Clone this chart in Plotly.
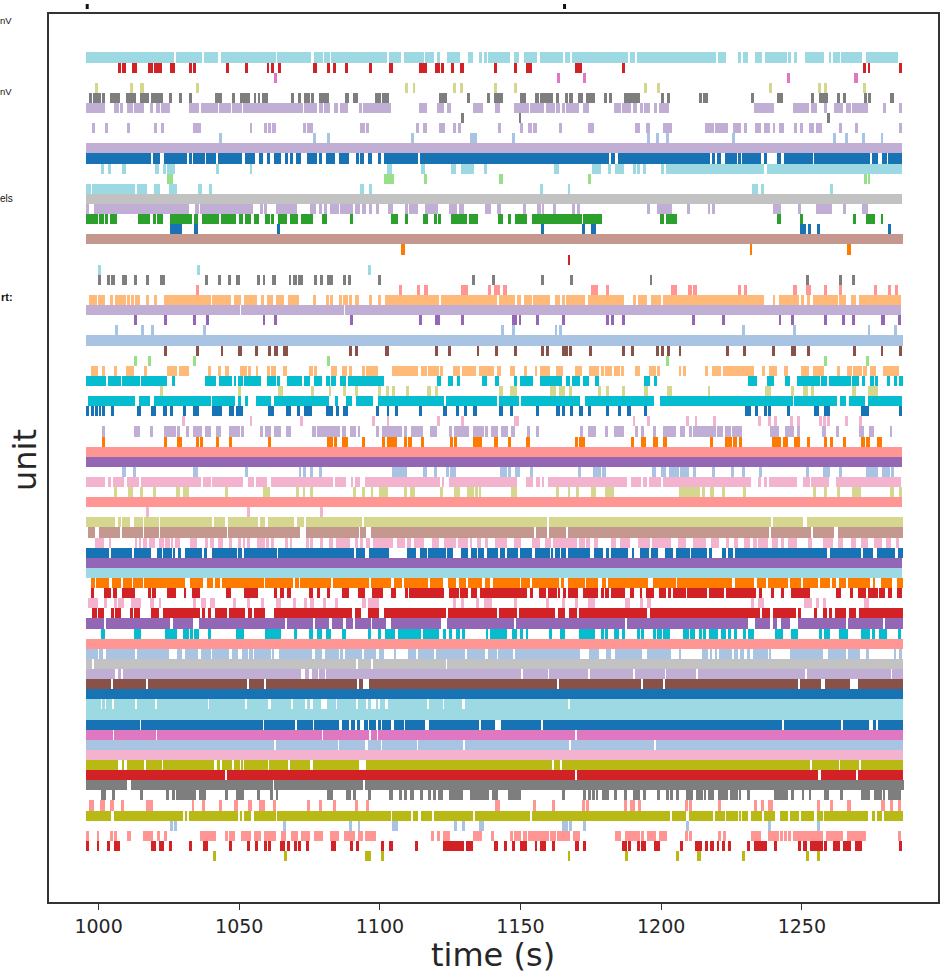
import plotly.graph_objects as go

# Each unit: flat list of start,end times (s) of its occupied runs in the raster, top row first
unit_00 = [995.7,1026.9, 1027.4,1036.6, 1037.3,1042.4, 1043.4,1062.9, 1063.3,1075.6, 1076.7,1079.7, 1080.2,1082.3, 1082.8,1102.7, 1103.3,1107.4, 1108.4,1115.7, 1116.1,1119.3, 1120.3,1121.3, 1123.7,1128.5, 1131.4,1133, 1135.3,1136.4, 1137,1137.9, 1138.5,1146.2, 1147.7,1149.3, 1151.3,1156, 1156.8,1165.1, 1165.7,1167.7, 1168.2,1188.2, 1188.8,1190.8, 1191.4,1219.5, 1220.1,1223.1, 1227.2,1228.2, 1229.2,1230.8, 1233.4,1235.9, 1236.9,1244.6, 1245.2,1246.3, 1247.2,1248.3, 1251.2,1258, 1259.5,1260.5, 1260.9,1263.6, 1264,1271.4, 1272.8,1284.1]
unit_01 = [1007,1007.8, 1008.5,1009.6, 1012,1013.7, 1017.7,1019.4, 1019.7,1022.4, 1025.3,1027, 1032,1033.1, 1033.7,1034.7, 1045.4,1046.4, 1052,1053.2, 1059.8,1060.7, 1061.2,1062.3, 1063.8,1065, 1076.1,1077.8, 1081.2,1082.4, 1083.3,1084.5, 1087.5,1088.5, 1096.1,1097.3, 1103.3,1104.5, 1114,1116.6, 1119.6,1121.3, 1121.6,1122.8, 1125.3,1126.3, 1128.4,1130, 1140.5,1141.6, 1147.7,1148.8, 1151.8,1153.9, 1169.3,1171.9, 1186.2,1187.2, 1271.8,1272.8, 1273.4,1274.4, 1284.6,1285.7]
unit_02 = [1062.3,1063.3, 1163.1,1164.2, 1172.3,1173.4, 1244.6,1245.7, 1268.6,1269.8]
unit_03 = [998.8,999.9, 1011.1,1012.2, 1014.8,1016.3, 1034.6,1035.7, 1109,1110, 1111.6,1112.6, 1125.9,1126.9, 1128.5,1129.5, 1140.5,1141.6, 1147.7,1148.8, 1193.9,1194.9, 1198.5,1199.5, 1238.5,1239.5, 1255.9,1256.9, 1258,1259, 1271.8,1272.9]
unit_04 = [996.7,997.6, 998.1,1000.8, 1001.3,1002.4, 1003.9,1007.6, 1009.6,1013.2, 1014.8,1017.8, 1018.8,1022.9, 1024.9,1026, 1028.5,1029.5, 1032.1,1033.2, 1041.4,1044, 1047.5,1048.5, 1050.1,1053.7, 1055.2,1056.1, 1056.6,1057.5, 1058.1,1060.3, 1068.4,1069.5, 1071,1072.1, 1073.2,1075, 1075.6,1076.7, 1078.2,1081.9, 1087.5,1089, 1090.5,1092.2, 1098.2,1100.3, 1100.8,1103.4, 1121.1,1124, 1131,1132.2, 1137.9,1139, 1140.5,1143.6, 1149.7,1151.9, 1155,1156.5, 1157,1161.6, 1162.6,1163.7, 1165.7,1166.8, 1167.3,1168.8, 1170.3,1172.3, 1173.4,1176.5, 1179.6,1180.6, 1181.6,1182.6, 1186.8,1192.5, 1200,1201.1, 1202.2,1203.2, 1213.4,1214.5, 1214.9,1216.5, 1231.8,1232.9, 1241.1,1243.2, 1253.4,1254.4, 1256.2,1259.4, 1262.6,1263.7, 1264.6,1265.7, 1272,1273, 1273.5,1274.6, 1281.5,1282.6]
unit_05 = [995.7,1002.4, 1005.4,1007.1, 1007.6,1008.6, 1010.2,1012.2, 1012.6,1016.2, 1018.3,1019.4, 1020.4,1021.7, 1022.1,1025.5, 1032.1,1035.7, 1036.3,1042.3, 1042.9,1046.9, 1047.5,1050.9, 1051.5,1072.6, 1073,1077.8, 1078.2,1079.8, 1080.2,1082.4, 1083.8,1085.2, 1085.7,1088.5, 1092.5,1093.6, 1094.1,1103.9, 1114,1116.6, 1120.2,1122.8, 1123.9,1125.4, 1133.1,1136.5, 1141,1142.6, 1147.7,1152.9, 1153.4,1158.5, 1159,1162.2, 1162.6,1164.2, 1164.7,1165.7, 1166.3,1170.8, 1172.3,1174.4, 1183.1,1185.7, 1186.2,1189.4, 1189.8,1191.4, 1192.5,1193.4, 1194,1196, 1197.5,1198.6, 1199.1,1202.8, 1232.9,1240, 1246.8,1252.4, 1253.4,1255.4, 1258,1259, 1261.6,1264.8, 1265.7,1267.3, 1267.8,1273.5, 1279,1280, 1284.6,1285.7]
unit_06 = [1129,1130, 1149.3,1150.3, 1258.9,1260]
unit_07 = [997.7,998.8, 1002.4,1003.4, 1010,1011.1, 1019.7,1020.8, 1022.3,1023.4, 1033.6,1036.3, 1053.7,1054.7, 1058.7,1059.8, 1060.3,1061.3, 1061.8,1062.9, 1072.6,1073.6, 1074.1,1076.2, 1093,1094.7, 1095.2,1096.2, 1113,1114, 1115.5,1116.6, 1121.1,1123.3, 1125.9,1126.9, 1127.9,1128.9, 1142.1,1143.1, 1149.7,1150.8, 1152.8,1153.9, 1154.5,1156, 1163.7,1164.7, 1173.9,1176, 1190.8,1192.3, 1194.5,1196, 1200.6,1203.7, 1215.4,1218.6, 1219.1,1223.7, 1225.7,1228.3, 1229.4,1230.4, 1233.4,1235.5, 1236.5,1238.6, 1239.7,1240.6, 1241.7,1243.7, 1247.2,1248.3, 1249.4,1250.3, 1252.4,1254.4, 1254.9,1257, 1263.1,1264.2, 1268.8,1269.8, 1284.6,1285.7]
unit_08 = [1042.8,1043.8, 1076.1,1077.2, 1081.2,1082.3, 1111,1112, 1132,1134.4, 1147.1,1148.2, 1194.9,1196, 1198,1199.1, 1201.7,1202.7, 1225.2,1226.3, 1261,1262.1, 1265.2,1266.3, 1271.4,1272.4, 1278,1279]
unit_09 = [995.7,1285.7]
unit_10 = [995.7,1018.7, 1019.3,1021.9, 1023.4,1031.4, 1032,1033.1, 1033.7,1037.7, 1038.3,1041.7, 1042.3,1051, 1052.1,1055.7, 1057.2,1058.3, 1059.8,1060.9, 1062.4,1064.9, 1066.4,1067.5, 1068,1069, 1070.1,1072.1, 1074.1,1077.8, 1078.2,1079.3, 1080.8,1083.9, 1085.4,1089, 1091.6,1092.7, 1093.1,1094.2, 1095.7,1097.3, 1099.3,1100.4, 1101.3,1113.7, 1114.2,1181.4, 1182,1183.6, 1184.6,1217.4, 1218,1219, 1220,1221.1, 1222.7,1226.9, 1227.4,1228.3, 1228.9,1235.5, 1236.5,1237.6, 1241.1,1242.6, 1243.8,1253.9, 1254.4,1274.4, 1275,1277, 1278.6,1280.1, 1280.6,1285.7]
unit_11 = [1000.8,1001.9, 1003.4,1004.5, 1008.4,1009.6, 1020.2,1021.5, 1023,1023.9, 1024.5,1027, 1041.8,1042.9, 1053.7,1054.7, 1102.7,1104.4, 1114.5,1116.2, 1125.3,1126.9, 1129,1133.4, 1136.9,1137.9, 1162,1163.7, 1175.4,1178.5, 1181.1,1182, 1183.7,1186.8, 1189.8,1190.9, 1191.4,1192.5, 1193.4,1194.5, 1200,1201.1, 1201.7,1236.6, 1237.5,1285.7]
unit_12 = [1024.3,1026.5, 1101.3,1102.4, 1102.7,1105, 1115.6,1116.6, 1142.5,1143.6, 1173.9,1174.9, 1272,1273, 1273.5,1274.4]
unit_13 = [995.7,997.2, 997.7,1013.1, 1013.7,1017.2, 1019.8,1021.9, 1024.9,1028, 1035.2,1036.7, 1039.2,1040.3, 1093.1,1094.2, 1096.2,1097.3, 1157,1158, 1166.7,1167.7, 1232.3,1234.4, 1235.5,1236.6, 1260,1261.1]
unit_14 = [995.7,1285.7]
unit_15 = [995.7,996.7, 998.3,1032.1, 1034.2,1035.7, 1036,1055, 1057.3,1058.4, 1058.9,1059.8, 1062.9,1070.4, 1075.2,1077.3, 1078.2,1079.3, 1080.3,1081.3, 1082.4,1085.3, 1085.8,1090.5, 1091,1093.1, 1093.6,1095.1, 1096.2,1097.3, 1098.7,1099.7, 1102.8,1104.8, 1109,1110, 1110.5,1113.7, 1116.2,1120.8, 1124.4,1127.5, 1128.1,1130, 1137.4,1139.6, 1141.5,1143.1, 1150.8,1151.9, 1156,1157.1, 1157.6,1158.5, 1161.6,1162.6, 1168.3,1169.3, 1170.2,1171.3, 1194.9,1196, 1198.5,1203.7, 1209.3,1210.3, 1216.5,1217.5, 1218,1219.1, 1239.7,1242.6, 1248.8,1249.8, 1254.9,1260.6, 1264.6,1265.7, 1271.4,1273.5]
unit_16 = [995.7,999.8, 1000.2,1001.8, 1002.4,1003.4, 1003.9,1006.5, 1014,1018.2, 1019.3,1020.3, 1020.9,1022.9, 1025.4,1033.1, 1034.1,1035.2, 1036.7,1042.8, 1043.4,1048.9, 1050,1051.5, 1052,1054.1, 1055.2,1057.2, 1059.3,1060.9, 1061.3,1062.4, 1063.8,1066.9, 1068,1071, 1072.1,1076.2, 1079.3,1081.3, 1089.5,1090.5, 1103.9,1106.5, 1109,1110, 1115.5,1117.2, 1119.1,1120.2, 1120.8,1121.8, 1125.3,1131.1, 1131.7,1135, 1142.1,1143.6, 1145.6,1146.7, 1148.2,1152.3, 1153.9,1171.7, 1172.3,1179.1, 1199.5,1201.1, 1201.7,1205.7, 1241.1,1242.6, 1249.4,1250.4, 1268.3,1269.4, 1272.9,1276, 1278,1279]
unit_17 = [1025.4,1029.5, 1034.1,1035.2, 1063.3,1064.4, 1157.4,1158.5, 1171.9,1172.9, 1174.9,1177, 1249.4,1251.4, 1252.3,1253.4, 1255.4,1256.5, 1280.6,1281.6]
unit_18 = [995.4,1286.1]
unit_19 = [1107.4,1109, 1231.4,1232.3, 1266.2,1267.3]
unit_20 = [1166.7,1167.7]
unit_21 = [999.9,1000.8, 1035.1,1036.2, 1095.6,1096.7]
unit_22 = [999.9,1000.8, 1002.9,1003.9, 1004.4,1006, 1008.5,1010, 1012.6,1013.7, 1016.8,1017.8, 1021.9,1023.5, 1037.7,1038.8, 1042.3,1043.4, 1046,1047, 1049,1050.1, 1056.3,1057.3, 1058.3,1059.3, 1061.8,1062.9, 1067.6,1068.5, 1069,1070.6, 1071,1072.7, 1076.7,1077.8, 1078.7,1079.8, 1081.3,1083.3, 1087,1088, 1088.6,1089.6, 1099.3,1100.4, 1132.6,1133.7, 1139.9,1141, 1157.4,1158.5, 1167.7,1168.8, 1195.9,1196.9, 1251.4,1252.4, 1263.1,1264.2, 1267.7,1268.8]
unit_23 = [1034.6,1035.7, 1106.9,1107.9, 1113.1,1114.2, 1115.7,1117.2, 1129,1131.5, 1138.4,1139.5, 1140.5,1142.6, 1143.6,1145.1, 1174.9,1177.5, 1180.5,1181.6, 1203.6,1205.7, 1209.7,1210.8, 1211.4,1212.9, 1227.2,1228.3, 1229.4,1230.4, 1246.9,1248.4, 1251.4,1253.4, 1258,1259, 1263.1,1264.2, 1275.5,1276.6, 1280.6,1281.6, 1283.2,1284.3]
unit_24 = [996.7,999.3, 999.9,1002.4, 1003.9,1005, 1006,1009.6, 1010,1011.1, 1011.6,1012.6, 1013.1,1014.8, 1016.8,1017.8, 1019.7,1020.8, 1023.4,1039.8, 1040.4,1047, 1048,1050.6, 1051.6,1056.2, 1057.8,1058.9, 1059.9,1061.9, 1062.9,1065.9, 1067.5,1071.1, 1076.2,1077.3, 1080.8,1081.9, 1082.4,1083.3, 1085.4,1086.5, 1087,1088.5, 1089,1090, 1091.2,1092.7, 1096.2,1097.3, 1099.3,1100.4, 1101.9,1120.9, 1121.8,1141.5, 1142.5,1148.2, 1148.7,1150.3, 1151.3,1153.9, 1154.4,1160.6, 1162.2,1164.2, 1164.7,1165.7, 1166.2,1172.9, 1173.9,1186.8, 1189.8,1190.9, 1191.9,1195, 1196.5,1200.1, 1200.6,1236.6, 1239.7,1240.6, 1241.7,1248.9, 1249.8,1250.9, 1251.8,1252.9, 1254,1262.7, 1263.1,1265.7, 1267.3,1269.4, 1270.4,1285.3]
unit_25 = [995.5,1050.1, 1050.6,1087.1, 1087.6,1285.3]
unit_26 = [1012.6,1013.7, 1023.4,1024.5, 1033.6,1034.7, 1038.2,1039.2, 1058.3,1059.3, 1062.4,1063.5, 1089.5,1090.5, 1114,1115.1, 1119.7,1121.3, 1129,1130, 1147.1,1148.7, 1149.3,1150.3, 1155.4,1156.5, 1164.7,1165.7, 1180.5,1181.6, 1182,1183.1, 1186.2,1187.2, 1210.8,1211.9, 1221.7,1222.6, 1241.7,1242.7, 1246.3,1247.3, 1258,1259, 1264.2,1265.2, 1267.7,1268.8, 1278.1,1279.6, 1284.3,1285.3]
unit_27 = [1006,1007, 1015.2,1016.3, 1018.8,1019.8, 1037.2,1038.3, 1143.1,1144.2, 1147.1,1148.2, 1162.2,1163.1, 1163.7,1164.7, 1228.8,1229.8, 1246.8,1247.8, 1273.4,1274.4, 1282.6,1283.7]
unit_28 = [995.7,1286]
unit_29 = [1023.4,1024.5, 1034.6,1035.7, 1043.4,1044.4, 1049.5,1051, 1055.7,1056.7, 1060.3,1061.3, 1062.4,1063.8, 1065.5,1067.5, 1089,1090, 1091.1,1092.1, 1101.8,1103.3, 1119.7,1120.8, 1124.3,1125.4, 1134.4,1135.4, 1141,1142.1, 1147.7,1148.8, 1157.4,1158.5, 1159,1160, 1164.7,1166.7, 1167.3,1168.3, 1174.4,1175.4, 1186.2,1187.2, 1189.3,1190.3, 1198,1199.1, 1200,1201.1, 1202.2,1203.2, 1206.2,1207.2, 1223.1,1224.2, 1229.2,1230.3, 1239.5,1240.6, 1246.3,1247.8, 1251.8,1252.9, 1268.3,1269.4, 1278,1279, 1284.6,1285.7]
unit_30 = [1012.6,1013.7, 1017.7,1018.8, 1033.7,1034.7, 1081.3,1082.4, 1201.7,1202.7, 1258,1259, 1272.9,1274]
unit_31 = [997.3,999.9, 1001.3,1002.4, 1005.4,1006.5, 1009.6,1012.6, 1016.2,1017.2, 1024.5,1028, 1028.6,1032.1, 1038.8,1039.8, 1042.4,1043.4, 1045,1046.5, 1050.1,1052.7, 1053.2,1054.2, 1055.8,1056.7, 1059.9,1060.9, 1061.3,1062.9, 1065.5,1067, 1074.7,1076.2, 1076.7,1077.8, 1082.8,1084.9, 1086.4,1088.4, 1089,1090, 1093.6,1094.7, 1095.2,1099.3, 1104.2,1113.6, 1114.6,1116.6, 1117.2,1120.9, 1121.2,1122.3, 1125.9,1128.5, 1129.1,1134.1, 1135.3,1140.5, 1141.6,1143.1, 1146.2,1148.2, 1151.3,1152.3, 1155,1156, 1157,1160.6, 1162.6,1165.2, 1169.3,1171.9, 1174.4,1178, 1178.5,1179.6, 1180,1182.6, 1183.1,1185.2, 1185.7,1186.8, 1190.8,1192.3, 1195.5,1198, 1198.5,1199.5, 1206.2,1207.2, 1207.7,1208.8, 1215.4,1216.5, 1218,1221.1, 1222.1,1232.9, 1236,1237, 1238.5,1241.1, 1243.7,1245.2, 1249.8,1252.4, 1254,1258, 1262.6,1263.7, 1266.2,1267.8, 1268.3,1271.4, 1271.8,1273, 1274.4,1276.4, 1279,1284.7]
unit_32 = [995.7,1002.8, 1003.4,1008, 1008.5,1014.8, 1015.2,1024.5, 1026,1027, 1037.7,1041.8, 1042.9,1047.5, 1048,1049, 1049.5,1051.2, 1051.6,1057.8, 1059.8,1063, 1063.5,1064.4, 1067,1072.2, 1073.2,1075.3, 1076.7,1079.3, 1080.8,1082.4, 1082.8,1084.4, 1085.9,1087.9, 1088.5,1101.3, 1120.3,1121.8, 1124.3,1126, 1127.4,1128.5, 1136.4,1137.9, 1141,1142.5, 1147.7,1148.8, 1149.7,1154.4, 1157,1164.7, 1166.2,1167.7, 1168.2,1171.3, 1172.3,1174.4, 1176.5,1178, 1194,1196, 1197.5,1198.6, 1230.8,1233.9, 1237.5,1240.1, 1244.1,1245.7, 1248.3,1256.5, 1256.9,1259, 1259.5,1267.3, 1267.7,1270.2, 1271.4,1272.5, 1274.4,1275.5, 1276,1277, 1280.1,1281.2, 1282.6,1283.7, 1284.7,1285.8]
unit_33 = [1021.9,1023, 1049.5,1050.6, 1063.9,1065.5, 1075.6,1076.7, 1081.8,1082.8, 1087,1088, 1091,1092.1, 1099.3,1100.4, 1102.2,1103.3, 1104.4,1105.4, 1109.4,1110.5, 1116.6,1118.2, 1119.7,1120.8, 1142.5,1143.6, 1146.2,1148.8, 1160.6,1162.6, 1163.7,1165.7, 1167.3,1168.3, 1177.5,1178.6, 1180.5,1181.6, 1186.2,1187.2, 1193.9,1195.4, 1202,1203.7, 1216.5,1217.5, 1237,1239.1, 1246.3,1247.3, 1250.3,1252.3, 1253.4,1254.4, 1267.8,1269.4, 1273.5,1277]
unit_34 = [996.3,1013.1, 1014.2,1018.3, 1019.8,1039.8, 1040.4,1048.6, 1049.6,1050.6, 1052.1,1053.2, 1055.8,1061.3, 1062.4,1081.8, 1083.9,1085, 1088,1090, 1091.6,1097.7, 1099.4,1122.9, 1123.4,1141.6, 1142.2,1149.3, 1150.3,1171.3, 1172.9,1197.4, 1199.5,1246.8, 1247.3,1262.6, 1263.7,1265.7, 1266.7,1272.4, 1273.5,1285.7]
unit_35 = [995.7,996.7, 997.3,998.2, 998.7,999.8, 1000.2,1000.8, 1001.3,1002.4, 1004.5,1005.4, 1013.7,1015.2, 1018.8,1020.3, 1022.9,1024.5, 1025.4,1026.5, 1030,1031.1, 1033.6,1035.7, 1040.3,1043.8, 1046.4,1048, 1049,1051.2, 1060.4,1062.4, 1066.5,1068.5, 1070.6,1071.6, 1073.2,1075.8, 1080.8,1083.3, 1084.4,1085.5, 1087,1088.5, 1098.7,1099.7, 1102.4,1103.4, 1105.4,1106.5, 1114,1115.1, 1122.3,1123.9, 1126.9,1128, 1130,1131.1, 1133.1,1134.4, 1142.5,1143.6, 1146.2,1147.3, 1155.4,1156.5, 1162.6,1164.2, 1164.7,1165.7, 1167.7,1168.8, 1170.8,1172.3, 1173.9,1174.9, 1180.5,1181.6, 1184.6,1185.7, 1187.7,1189.3, 1193.9,1194.9, 1229.8,1231.8, 1233.4,1234.4, 1236.5,1237.6, 1238,1239.1, 1244.7,1245.8, 1254.4,1256, 1258,1260, 1270.9,1273.9, 1284.6,1285.7]
unit_36 = [1029.5,1030.6, 1053.7,1054.7, 1071.6,1072.7, 1097.2,1098.2, 1102.4,1103.4, 1120.2,1121.3, 1129,1130, 1147.7,1149.3, 1189.8,1190.8, 1194.9,1196, 1208.8,1209.8, 1211.9,1212.9, 1218.5,1219.5, 1234.4,1235.5, 1238,1239.1, 1240.1,1241.2, 1245.7,1246.8, 1248.3,1249.4, 1256,1257, 1257.5,1258.6, 1259,1260.1, 1265.2,1266.3, 1270.4,1271.5]
unit_37 = [1001.3,1002.4, 1012.6,1014.8, 1018.3,1019.4, 1023.4,1027.5, 1028,1029.1, 1031.1,1032.1, 1033.7,1036.7, 1037.8,1039.8, 1041.8,1043.4, 1046.4,1050.1, 1050.6,1051.6, 1057.3,1058.3, 1059.3,1061.3, 1062.4,1065, 1066.5,1068.5, 1075.8,1077.3, 1077.8,1085.9, 1086.4,1088, 1089.5,1091.6, 1092.1,1093.1, 1098.7,1099.7, 1100.8,1108, 1108.5,1109.5, 1111,1115.3, 1117.7,1120.2, 1124.5,1125.5, 1126.5,1131.6, 1133.1,1136.9, 1137.4,1138.5, 1139.5,1142.1, 1143.1,1145.7, 1146.7,1148.2, 1152.3,1153.4, 1155.4,1156.5, 1171.3,1172.3, 1173.9,1177, 1180,1181.1, 1183.1,1186.8, 1190.8,1191.9, 1192.9,1193.9, 1197,1198, 1200.6,1205.2, 1206.8,1208.3, 1209.8,1210.8, 1211.4,1219.5, 1220,1222.1, 1222.6,1224.7, 1225.2,1228.8, 1238.6,1241.7, 1244.1,1247.2, 1248.3,1249.4, 1257,1258.6, 1262.1,1263.2, 1270.4,1272, 1274,1275.5, 1281.2,1282.2]
unit_38 = [1001.3,1002.4, 1023.4,1024.5, 1028,1029.5, 1034.6,1035.7, 1036.2,1037.2, 1041.8,1042.9, 1046.4,1047.5, 1060.3,1061.3, 1081.3,1083.3, 1083.8,1084.9, 1086.4,1088.5, 1093.6,1094.7, 1100.8,1101.9, 1102.4,1106, 1108.5,1109.5, 1110,1111.5, 1114.7,1115.8, 1124.9,1126, 1126.5,1127.5, 1133,1136.4, 1140.5,1142.1, 1145.6,1146.7, 1151.8,1153.4, 1169.3,1170.3, 1170.8,1172.8, 1189.3,1190.3, 1192.9,1194.5, 1197,1199, 1200.6,1202.2, 1217.4,1218.5, 1222.7,1225.2, 1225.7,1226.8, 1227.8,1228.9, 1239.5,1242.6, 1243.2,1245.2, 1247.3,1249.4, 1251.8,1252.9, 1258,1259, 1260.1,1261.2, 1264.8,1265.8, 1270.9,1272.4, 1272.9,1274.4, 1276.6,1278.6]
unit_39 = [995.7,1285.7]
unit_40 = [995.7,1285.7]
unit_41 = [1008.5,1009.6, 1012.2,1013.2, 1033.7,1035.2, 1052.1,1053.2, 1071.1,1072.1, 1072.7,1073.6, 1075.2,1076.2, 1078.2,1079.3, 1104.4,1109.6, 1115.2,1116.6, 1119.2,1120.2, 1123.4,1124.4, 1124.9,1126.9, 1142.6,1145.1, 1145.6,1146.7, 1148.2,1149.7, 1153.4,1154.5, 1170.3,1171.4, 1175.9,1178.5, 1179,1180.5, 1196.9,1198, 1200,1201.6, 1202.6,1206.3, 1206.8,1209.8, 1211.4,1212.4, 1218,1219.1, 1224.7,1225.8, 1228.8,1229.8, 1234.9,1236, 1251.4,1252.4, 1257.5,1260.1, 1263.1,1264.2, 1272.9,1277, 1278.6,1281.2, 1281.7,1282.8]
unit_42 = [995.7,1002.4, 1003.4,1004.5, 1005,1009.1, 1010,1014.2, 1015.2,1036.3, 1037.2,1039.8, 1040.4,1051.2, 1053.2,1055.2, 1055.8,1059.8, 1061.3,1083.3, 1083.9,1088, 1089.6,1090.5, 1091.1,1093.1, 1094.7,1121.4, 1122.3,1122.9, 1124.4,1148.7, 1151.9,1154.5, 1155.4,1157, 1157.6,1158.5, 1159.6,1187.7, 1189.3,1192.9, 1193.4,1194.9, 1195.5,1200.1, 1200.6,1231.8, 1234.4,1235.5, 1236.5,1237.5, 1238.5,1248.3, 1250.3,1252.9, 1253.4,1259.8, 1262.1,1285.3]
unit_43 = [1005.4,1006.5, 1010.6,1012.2, 1014.8,1015.8, 1019.3,1020.3, 1027.5,1029.1, 1030,1031.1, 1031.4,1032.1, 1044.9,1046, 1058.3,1060.9, 1070.1,1071.1, 1072.7,1073.5, 1075.2,1076.2, 1090.5,1091.6, 1093.7,1094.8, 1096.7,1097.7, 1099.7,1102.8, 1108.5,1109.5, 1110.6,1112.6, 1121.4,1122.3, 1126.5,1128.5, 1131.1,1133.4, 1134.1,1134.8, 1135.3,1135.9, 1146.7,1148.8, 1162.6,1163.7, 1166.7,1167.7, 1169.7,1170.8, 1175.2,1177, 1180,1183.1, 1206.3,1213.9, 1214.5,1215.5, 1217.5,1218.6, 1221.7,1222.7, 1229.2,1230.3, 1254,1255, 1258,1259, 1262.6,1263.7, 1267.8,1270.9, 1281.5,1282.6, 1284.6,1285.7]
unit_44 = [995.7,1285.7]
unit_45 = [1016.8,1017.8, 1052.7,1053.8, 1078.7,1079.8]
unit_46 = [995.7,1006, 1007.1,1007.8, 1008.5,1011.1, 1012.6,1015.8, 1016.2,1021.4, 1021.9,1040.3, 1040.9,1044.9, 1046,1056.6, 1057.3,1059.1, 1060.3,1069.6, 1070.6,1073, 1073.6,1093.6, 1094.2,1159.4, 1160.2,1239.1, 1239.7,1250.3, 1251.8,1285.8]
unit_47 = [996.2,998.7, 1000,1007.6, 1008.3,1015.7, 1016.2,1021.4, 1021.9,1045.5, 1046.1,1071.5, 1073.6,1092.5, 1093.1,1095.1, 1096.7,1154.8, 1155.4,1159.4, 1160.2,1166.3, 1166.9,1238.5, 1239.1,1253.4, 1254,1261.6, 1262.7,1285.8]
unit_48 = [998.8,1001.9, 1003.8,1004.5, 1012.9,1013.7, 1014.4,1015.1, 1015.8,1017.2, 1017.8,1020, 1021.4,1023.3, 1023.7,1025.3, 1025.6,1026.5, 1027.1,1029.1, 1032.4,1035.1, 1037.7,1038.9, 1039.7,1041.2, 1042.4,1044.4, 1046.3,1047.5, 1049.5,1050.5, 1051.6,1052.2, 1052.9,1053.9, 1056.3,1059, 1059.6,1060.5, 1061.2,1062.4, 1066.4,1067.2, 1067.9,1068.8, 1073.7,1074.7, 1075.3,1076.4, 1078.8,1079.7, 1082,1083.2, 1084.4,1089.3, 1091,1092.1, 1092.9,1094, 1095,1096.6, 1097.4,1104.8, 1106.2,1109, 1109.8,1111, 1112.2,1115.7, 1118.7,1121, 1122.8,1126.9, 1127.9,1131.4, 1132,1132.9, 1134.4,1135.8, 1137.3,1138.5, 1140.9,1145.2, 1147.6,1150.3, 1153.9,1156.8, 1158.6,1161, 1161.6,1170.1, 1170.8,1172.8, 1173.4,1174.8, 1176,1177.5, 1182.3,1184.1, 1185.2,1188.8, 1191.7,1195.9, 1196.8,1203.6, 1205.9,1208.9, 1211.3,1216, 1217.8,1220.5, 1223.1,1224, 1226,1227.2, 1229.6,1231.4, 1232.6,1234, 1234.3,1237.9, 1239.4,1241.4, 1242.6,1243.8, 1245,1248.2, 1252.1,1253.6, 1257.4,1261, 1262.7,1264.5, 1267.4,1269.3, 1271,1273.4, 1275.7,1278.4, 1279.9,1281.6, 1283.4,1284.6]
unit_49 = [995.7,1003.8, 1004.4,1012, 1012.6,1018.7, 1020.9,1022.6, 1023,1026, 1026.6,1027.3, 1028.1,1029.3, 1030.6,1036.6, 1037.3,1038.6, 1040.3,1049.2, 1049.6,1051, 1051.6,1063.3, 1063.9,1090.9, 1091.6,1094.6, 1096.2,1103.3, 1109.7,1113, 1114.2,1116.7, 1117.2,1123.4, 1123.9,1125.9, 1129,1131.4, 1132.4,1134.4, 1135,1137, 1137.9,1142.1, 1142.6,1144.5, 1145.2,1149.2, 1149.7,1154.2, 1155.1,1160.4, 1161,1161.6, 1162.2,1163.9, 1164.5,1166.3, 1166.9,1174.8, 1176,1179.3, 1180.5,1181.5, 1182.2,1188.3, 1189.5,1190.4, 1192.3,1195.5, 1196.4,1198.8, 1201.2,1204.2, 1205.1,1210.1, 1210.7,1216.2, 1217.2,1217.9, 1221.7,1223.1, 1223.7,1225.5, 1226.3,1259.1, 1260.1,1271.2, 1271.8,1275.4, 1276.6,1283.1, 1284.3,1285.8]
unit_50 = [995.7,1285.7]
unit_51 = [995.7,1285.7]
unit_52 = [997.3,998.6, 999,1003.7, 1004.7,1008, 1008.7,1011.8, 1012.4,1015.8, 1016.3,1030.6, 1032.6,1037.2, 1038.4,1040.6, 1041.4,1043, 1044,1058.7, 1059.3,1069.1, 1069.8,1071.3, 1071.7,1082.7, 1083.4,1096.2, 1096.8,1103.9, 1105.1,1107.9, 1108.6,1117.1, 1117.7,1122.3, 1124.3,1127.2, 1128.1,1130.5, 1131.3,1136.3, 1137.3,1139.3, 1140.3,1149.7, 1150.3,1153.3, 1154.1,1163.7, 1164.5,1165.5, 1166.7,1172.8, 1173.4,1177.5, 1179.1,1180.5, 1181.2,1195.3, 1197.1,1205.1, 1205.7,1225.1, 1226.3,1233, 1234,1237.3, 1238.1,1245.1, 1245.7,1249.8, 1250.4,1255.9, 1256.5,1259.9, 1260.7,1262, 1263.1,1265.6, 1266.3,1274.4, 1275.6,1276, 1278,1282, 1283.7,1285.8]
unit_53 = [997.3,998.3, 1001.9,1004.4, 1005,1006.6, 1008.5,1013.1, 1017.4,1018.8, 1019.1,1020.3, 1024.5,1027.5, 1030.4,1031.2, 1033.2,1036.2, 1045.4,1046.9, 1051.6,1056.7, 1062.4,1063.5, 1064.5,1065.9, 1067,1068.5, 1074.7,1076.2, 1077.6,1078.7, 1081.3,1082.4, 1086.4,1089, 1092.1,1094.7, 1097.3,1101, 1103.9,1105.9, 1109.1,1110, 1110.5,1122.9, 1124.4,1128, 1128.5,1131.5, 1132.4,1134.4, 1135.5,1152.3, 1153.5,1154.5, 1156.5,1158.9, 1159.6,1163, 1163.6,1164.2, 1165.1,1166.3, 1166.9,1170.4, 1172.3,1177.5, 1178.6,1179.6, 1180.1,1181.4, 1182,1187.2, 1188.8,1190.3, 1192.3,1193.3, 1194.5,1197.4, 1199.1,1201.8, 1202.5,1203.5, 1204.3,1208.7, 1209.3,1216.2, 1216.9,1222.5, 1223.2,1233.7, 1234.6,1235.8, 1239.1,1240.2, 1242.6,1243.7, 1246.3,1252.8, 1262.2,1264, 1267.2,1268.1, 1269.8,1272.8, 1273.4,1277, 1277.5,1279.5, 1280.6,1282.1, 1283.7,1285.7]
unit_54 = [996.2,999.9, 1001.9,1002.9, 1005.4,1006.5, 1007,1009, 1011.6,1015.2, 1018.3,1019.8, 1021.4,1022.3, 1033.7,1034.7, 1036.3,1038.3, 1039.7,1041.4, 1047.9,1048.9, 1052.6,1053.7, 1057.8,1058.7, 1062.9,1064.9, 1069,1070.1, 1073.1,1074.2, 1075.3,1076.7, 1079.8,1080.8, 1083.9,1085, 1093.6,1095.1, 1095.6,1099.7, 1126,1127, 1129,1130, 1134.3,1135.2, 1137,1140, 1147.6,1148.8, 1159,1160, 1164.7,1165.7, 1169.3,1170.3, 1173.9,1176.5, 1187.2,1188.8, 1192.5,1193.4, 1194.9,1196.5, 1232,1233, 1234.4,1236.6, 1250.8,1253.6, 1255,1256.1, 1257.5,1258.6, 1272,1273.7]
unit_55 = [997.7,999.3, 999.8,1001.9, 1004.4,1005.4, 1005.9,1008, 1011.1,1012.2, 1012.6,1014.6, 1018.8,1021.4, 1022.9,1036.2, 1036.6,1037.7, 1038.8,1039.8, 1041.4,1045.5, 1046.4,1052.1, 1053.2,1054.6, 1055.2,1059.3, 1062.4,1090.1, 1091.2,1093.2, 1095.7,1099.7, 1101.3,1123.6, 1124.2,1141.5, 1142.2,1148.6, 1149.3,1162.4, 1163.2,1165.7, 1167.4,1170.2, 1170.8,1194.8, 1196,1235.3, 1236,1238.8, 1239.7,1247.8, 1248.8,1249.8, 1254.4,1255.4, 1257.5,1259, 1259.5,1260.6, 1261.7,1265.8, 1266.8,1269.4, 1270.4,1285.8]
unit_56 = [995.7,1001.9, 1002.5,1025.5, 1026.5,1033.6, 1035.7,1066.4, 1067,1076.2, 1076.8,1081.8, 1083,1086.9, 1088,1090.5, 1091,1096.7, 1097.3,1102.2, 1103.9,1121.9, 1123.9,1147.7, 1148.3,1187.1, 1187.7,1230.8, 1233.4,1238.6, 1239.7,1241.2, 1242.6,1245.7, 1248.8,1265.8, 1266.3,1279, 1279.6,1285.8]
unit_57 = [1000.8,1002.4, 1012.6,1015.2, 1023.5,1028, 1030.1,1032.1, 1032.6,1033.7, 1034.1,1035.7, 1038.8,1039.8, 1049,1051.6, 1059.3,1064.9, 1069.5,1070.6, 1074.7,1076.2, 1077.8,1079.3, 1080.8,1082.8, 1086.4,1088, 1095.7,1096.8, 1099.3,1100.4, 1101.9,1105.4, 1106.5,1114.6, 1115.2,1120.9, 1122.3,1123.4, 1124.4,1125.5, 1127,1128.6, 1129.1,1130.1, 1137.6,1138.5, 1139.3,1145.1, 1146.8,1148.7, 1149.7,1150.7, 1151.9,1152.8, 1160.2,1161.1, 1164.2,1165.7, 1170.8,1176.5, 1178.5,1179.6, 1180,1181.1, 1183.2,1185.1, 1186.2,1187.2, 1191.4,1192.5, 1192.9,1193.9, 1197,1198, 1198.6,1200.2, 1200.6,1203.2, 1207.8,1209.8, 1210.4,1212, 1213.4,1214.5, 1215,1216.1, 1217,1220.1, 1221.2,1223.2, 1223.8,1224.9, 1225.8,1226.9, 1229.2,1230.3, 1230.9,1232.9, 1240.6,1243.2, 1246.3,1248.8, 1256,1257, 1258,1260, 1263.2,1266.3, 1270.9,1274.4, 1274.9,1276, 1277.5,1280.1, 1284.3,1285.3]
unit_58 = [995.5,1286]
unit_59 = [995.7,999.8, 1000.3,1001.6, 1002.6,1013.1, 1013.7,1024.9, 1028,1029.7, 1030.6,1035.3, 1036.3,1039.8, 1040.4,1046.4, 1047.4,1049.6, 1051,1053.1, 1053.5,1054.8, 1055.2,1061.3, 1061.8,1062.3, 1064.1,1075.8, 1076.8,1079.4, 1080.4,1085.3, 1086,1087, 1087.6,1093.6, 1094.2,1098.7, 1099.8,1101.3, 1104.9,1105.7, 1110.1,1112.8, 1113.7,1119.3, 1119.9,1130.2, 1131,1137.3, 1138.5,1141.5, 1142.1,1147.4, 1148,1171.3, 1174.4,1177.9, 1180.3,1182, 1183.7,1193.2, 1194.9,1203.6, 1206.2,1207.1, 1214.6,1216.6, 1217.2,1218, 1219,1219.8, 1220.4,1225.1, 1225.8,1227.2, 1228.1,1229.6, 1230.4,1231.7, 1232.6,1237.9, 1238.5,1239, 1245.8,1257.4, 1259.2,1265.7, 1266.3,1270.8, 1272.8,1273.7, 1282.6,1283.5, 1284.6,1285.6]
unit_60 = [995.7,997.6, 998.3,1091.6, 1092.2,1096.7, 1097.7,1123.4, 1123.9,1285.8]
unit_61 = [995.7,1006, 1007.1,1007.8, 1008.7,1072, 1073.5,1074.7, 1075.8,1077.9, 1078.4,1080.4, 1080.8,1150.3, 1150.8,1159.6, 1160.2,1174, 1174.6,1190, 1190.8,1201.2, 1201.8,1212.4, 1213,1251.2, 1251.8,1281.6, 1282.1,1285.8]
unit_62 = [995.7,1004.4, 1005.1,1016.7, 1017.4,1052.7, 1053.3,1058.7, 1059.4,1091.9, 1092.6,1094.1, 1096.2,1163.1, 1163.8,1192.9, 1193.5,1200.5, 1201.2,1248.8, 1249.5,1256.8, 1258.1,1267.2, 1270,1285.8]
unit_63 = [995.7,1285.8]
unit_64 = [995.7,1000.7, 1001.2,1002.2, 1002.8,1004.8, 1005.4,1012.9, 1013.6,1020.2, 1020.8,1038.8, 1039.2,1052.2, 1052.7,1060.4, 1061.3,1068.4, 1069,1073.5, 1074.2,1075.3, 1076.1,1079.2, 1081.2,1084.3, 1084.7,1091.4, 1092.2,1095.1, 1095.7,1096.8, 1098.6,1099.4, 1099.9,1101.8, 1102.9,1116.7, 1117.3,1122.3, 1122.9,1129.1, 1130.3,1166.7, 1167.7,1285.8]
unit_65 = [995.7,1285.8]
unit_66 = [995.7,1014.6, 1015.2,1058.3, 1058.9,1070, 1070.7,1076.1, 1076.7,1085.4, 1086.4,1089, 1089.9,1091.3, 1091.8,1093.1, 1094.2,1095.6, 1096.2,1098.7, 1099.3,1100.4, 1100.8,1103.9, 1105,1108.4, 1109,1116.1, 1117.3,1135.3, 1135.9,1141, 1143.1,1157.4, 1158,1243, 1243.7,1264, 1264.7,1273.7, 1275.4,1276.2, 1277,1285.8]
unit_67 = [995.7,1005, 1005.5,1020.3, 1020.9,1079.3, 1079.8,1096.3, 1096.8,1098.9, 1099.4,1169.4, 1169.9,1285.8]
unit_68 = [995.7,1062.5, 1062.9,1085, 1085.4,1094.7, 1095.7,1100.3, 1100.8,1113.1, 1113.6,1129.7, 1130.2,1167.3, 1167.8,1197.4, 1198,1285.8]
unit_69 = [995.7,1285.8]
unit_70 = [995.7,1007, 1008.5,1009.1, 1010,1016.2, 1016.8,1022.4, 1023,1041.2, 1042.4,1043, 1044,1047.4, 1048.1,1050.1, 1050.7,1051.3, 1051.6,1060.1, 1060.7,1067.5, 1068,1075.2, 1076.2,1092.5, 1095.1,1161.1, 1161.8,1163.9, 1164.7,1252.9, 1253.5,1263.1, 1263.7,1270.4, 1271,1285.8]
unit_71 = [995.7,1044.8, 1045.5,1169.3, 1169.9,1255.9, 1256.9,1269.2, 1269.8,1285.8]
unit_72 = [995.7,1010.2, 1011.6,1061.9, 1062.5,1094.1, 1094.7,1286.2]
unit_73 = [1000.8,1002.8, 1004.9,1006, 1014.8,1015.7, 1024,1024.9, 1026,1027, 1027.6,1034.7, 1035.7,1038.3, 1044.9,1046, 1049,1051.6, 1056.3,1057.3, 1060.9,1061.9, 1062.9,1063.9, 1081.3,1083.3, 1087.9,1089.6, 1090.5,1091.6, 1095.7,1096.8, 1103.4,1104.5, 1106.9,1108, 1108.6,1109.7, 1110.6,1112.2, 1114.2,1115.2, 1117.2,1118.3, 1118.8,1119.8, 1120.8,1122.3, 1124.4,1129.5, 1132,1138.9, 1140,1142.1, 1145.6,1150.3, 1164.7,1165.7, 1172.3,1173.4, 1174,1174.9, 1175.4,1176.5, 1177,1177.5, 1179,1181.6, 1183.1,1184.2, 1186.8,1187.7, 1189.9,1192.3, 1193.4,1194.5, 1198.5,1199.5, 1201.7,1202.6, 1203.2,1204.3, 1205.3,1206.3, 1208.9,1211.4, 1212.4,1215, 1215.5,1216.1, 1216.7,1218.6, 1220.1,1223.7, 1224.3,1227.2, 1227.8,1228.3, 1230.4,1231.4, 1240.1,1245.2, 1246.3,1247.2, 1250.3,1250.9, 1252.4,1253.4, 1258,1259.5, 1263.7,1264.6, 1270.9,1274.4, 1275.5,1278.5, 1279,1279.6, 1280.6,1285.2]
unit_74 = [996.7,998.3, 1000.4,1002.4, 1003.9,1005.4, 1008,1009.1, 1016.8,1019.4, 1033.1,1034.1, 1036.6,1037.7, 1042.8,1043.8, 1048,1049.6, 1053.2,1054.7, 1057.2,1059.3, 1061.9,1063, 1074.1,1075.2, 1078.2,1079.3, 1083.3,1084.4, 1091.1,1092.2, 1095.1,1096.2, 1141,1142.6, 1154.4,1155.4, 1161.1,1162.2, 1171.9,1172.9, 1173.4,1174.5, 1186.8,1187.8, 1188.8,1190.8, 1191.9,1192.9, 1208.3,1209.4, 1209.8,1210.9, 1220.1,1221.2, 1232.9,1234, 1235.5,1236.6, 1238.1,1239.7, 1255.5,1256.6, 1260.1,1261.2, 1266.2,1267.3, 1278.1,1279.6, 1281.2,1282.3, 1284.1,1285.2]
unit_75 = [995.7,1004.4, 1005.4,1030, 1030.6,1031.5, 1032.1,1049.6, 1050.1,1051, 1051.6,1054.1, 1055.2,1063, 1063.5,1103.8, 1104.4,1111, 1111.6,1113.6, 1114.6,1118.7, 1119.3,1133.2, 1133.9,1153.3, 1153.9,1203.2, 1203.8,1208.8, 1209.8,1218.5, 1219.1,1222.6, 1223.2,1227.2, 1227.7,1228.3, 1228.9,1230.8, 1231.8,1236, 1236.5,1240.6, 1242.1,1245.2, 1245.8,1248.9, 1249.8,1254.4, 1255.5,1257.5, 1258,1273.5, 1275,1276.1, 1276.6,1278.6, 1279.1,1285.8]
unit_76 = [1025.4,1026.5, 1026.9,1028, 1065.5,1066.5, 1089,1090, 1092.1,1093.1, 1104.4,1106.4, 1126.5,1127.5, 1129.1,1130.1, 1135.3,1136.9, 1164.7,1166.7, 1167.3,1168.3, 1172.3,1173.4, 1208.8,1209.8, 1238,1239.1, 1255.5,1256.6]
unit_77 = [995.7,996.7, 999.3,1000.3, 1003.9,1005, 1005.4,1006.5, 1010,1011.6, 1015.7,1019.3, 1020.9,1021.9, 1023.4,1024.5, 1036.2,1041.8, 1044.9,1046, 1046.4,1048.4, 1050.6,1054.1, 1055.2,1057.8, 1058.9,1063, 1064.9,1066.5, 1068.5,1071, 1072.1,1075.2, 1076.7,1079.8, 1082.4,1085.4, 1087.4,1091.1, 1092.1,1094.1, 1094.7,1098.7, 1118.2,1119.3, 1120.3,1121.4, 1122.4,1125, 1133.1,1136.4, 1139.5,1140.5, 1146.2,1147.4, 1147.7,1150.3, 1150.8,1152.3, 1152.8,1160, 1160.5,1162.6, 1163.1,1167.7, 1168.8,1171.3, 1183.7,1185.7, 1187.2,1192.5, 1192.9,1194, 1194.9,1198, 1199.1,1202.2, 1208.3,1209.4, 1209.8,1210.9, 1220.1,1221.2, 1222.1,1223.2, 1231.8,1235.5, 1238.1,1241.7, 1242.1,1243.2, 1243.7,1244.8, 1245.2,1246.3, 1246.8,1257.5, 1258.5,1264.6, 1266.2,1272.9, 1284.1,1285.2]
unit_78 = [995.7,996.7, 999.3,1000.3, 1002.9,1003.9, 1005.4,1007.6, 1018.8,1020.3, 1021.4,1023.4, 1024.9,1026, 1032.1,1033.2, 1037.2,1038.8, 1046.4,1047.5, 1052.6,1053.7, 1055.7,1056.7, 1058.9,1059.9, 1060.4,1061.3, 1064.4,1066.4, 1067,1068, 1069.5,1070.6, 1071,1072.1, 1073.6,1074.7, 1082.8,1084.4, 1089.5,1090.5, 1091.6,1092.7, 1100.3,1101.3, 1103.4,1104.5, 1112.4,1113.6, 1122.3,1130, 1130.5,1133, 1140.5,1142.1, 1144.1,1145.1, 1147.1,1148.2, 1149.7,1152.3, 1155,1156, 1157,1159, 1161.1,1162.2, 1169.3,1170.8, 1172.3,1173.4, 1186.2,1187.7, 1188.3,1189.4, 1191.4,1192.5, 1192.9,1194.5, 1197.5,1199.5, 1206.8,1207.8, 1211.9,1214.5, 1215.5,1216.6, 1217.5,1218.6, 1219.7,1220.7, 1221.7,1222.7, 1223.7,1224.7, 1230.4,1231.5, 1232.9,1237.5, 1240.1,1241.1, 1248.8,1249.8, 1250.4,1252, 1252.9,1257.5, 1258,1259, 1261.1,1263.6, 1264.8,1267.3, 1268.8,1271.4, 1284.6,1285.7]
unit_79 = [1040.8,1041.8, 1065.9,1067, 1094.7,1096.7, 1100.3,1101.3, 1166.7,1167.7, 1187.2,1188.3, 1205.1,1206.2, 1212.9,1214, 1228.8,1229.8, 1251.4,1252.4, 1255.4,1256.5]

CY, RD, MG, LO, GY, LP, LB, BL, LG, SI, GR, RB, OR, SA, PE, DP, BR, TE, PK, OL = (
    "#9cd9e3", "#d22226", "#e078c1", "#d6d78e", "#7e7e7e", "#c0aed4", "#a8c4e2", "#1873b4", "#98df8a", "#c2c2c2",
    "#2ca02c", "#c4978f", "#ff7b00", "#ff9694", "#ffb978", "#9366b6", "#895249", "#06bccf", "#f3b3cf", "#b9b916")

unit_colors = [CY,RD,MG,LO,GY,LP,GY,LP,LB,LP,
               BL,CY,LG,CY,SI,LP,GR,BL,RB,OR,
               RD,CY,GY,SA,PE,LP,DP,LB,LB,BR,
               LG,PE,TE,LO,TE,BL,PK,LP,OR,SA,
               DP,LB,PK,LO,SA,PK,LO,RB,PK,BL,
               DP,CY,OR,RD,PK,RD,DP,TE,SA,LB,
               SI,LP,BR,BL,CY,CY,BL,MG,LB,PK,
               OL,RD,GY,GY,SA,OL,LB,SA,RD,OL]

x_ticks = [1000, 1050, 1100, 1150, 1200, 1250]

units = [globals()[f"unit_{i:02d}"] for i in range(80)]

W, H = 940, 973
L, R, T, B = 49, 940, 14, 902


def px(x):
    return (x - L) / (R - L)


def py(y):
    return 1 - (y - T) / (B - T)


fig = go.Figure()
for i, (runs, color) in enumerate(zip(units, unit_colors)):
    starts = runs[::2]
    ends = runs[1::2]
    fig.add_trace(go.Bar(
        orientation="h",
        y=[i] * len(starts),
        base=starts,
        x=[e - s for s, e in zip(starts, ends)],
        width=1,
        marker=dict(color=color, line=dict(width=0)),
        hoverinfo="skip",
        showlegend=False,
        name=f"unit {i}",
    ))

# Labels left over at the page edge, from the neighbouring panel
side_labels = [("nV", 0, 21, False, 9.5), ("nV", 0, 92, False, 9.5), ("els", 0, 198, False, 10), ("rt:", 1, 297, True, 11)]
annotations = [
    dict(text=f"<b>{t}</b>" if bold else t, xref="paper", yref="paper", x=px(x), y=py(y),
         xanchor="left", yanchor="middle", showarrow=False, borderpad=0, borderwidth=0,
         font=dict(family="Liberation Sans", size=size, color="#111"))
    for t, x, y, bold, size in side_labels
]
annotations.append(dict(
    text="unit", xref="paper", yref="paper", x=px(25), y=py(460), textangle=-90,
    xanchor="center", yanchor="middle", showarrow=False,
    font=dict(family="DejaVu Sans", size=32, color="#262626"),
))
annotations.append(dict(
    text="time (s)", xref="paper", yref="paper", x=px(493.5), y=py(954.5),
    xanchor="center", yanchor="middle", showarrow=False, borderpad=0,
    font=dict(family="DejaVu Sans", size=32, color="#262626"),
))

shapes = [
    dict(type="rect", xref="paper", yref="paper", x0=px(x0), x1=px(x0 + 3), y0=py(9), y1=py(4),
         fillcolor="#111", line=dict(width=0))
    for x0 in (85.8, 564.2)
]

fig.update_layout(
    width=W, height=H,
    margin=dict(l=L, r=W - R, t=T, b=H - B, pad=0),
    paper_bgcolor="white", plot_bgcolor="white",
    barmode="overlay", bargap=0,
    showlegend=False,
    font=dict(family="DejaVu Sans", color="#262626"),
    annotations=annotations, shapes=shapes,
    xaxis=dict(
        range=[982.38, 1298.4], tickvals=x_ticks, ticks="outside", ticklen=6, tickwidth=1.3, tickcolor="#333",
        showline=True, mirror=True, linecolor="#333", linewidth=1.6, showgrid=False, zeroline=False,
        tickfont=dict(size=19, color="#262626"),
    ),
    yaxis=dict(
        range=[83.55, -4.30], showticklabels=False, ticks="", showgrid=False, zeroline=False,
        showline=True, mirror=True, linecolor="#333", linewidth=1.6,
    ),
)

fig.write_html("out.html", config={"displayModeBar": False},
               post_script="document.body.style.margin='0';document.body.style.overflow='hidden';")
